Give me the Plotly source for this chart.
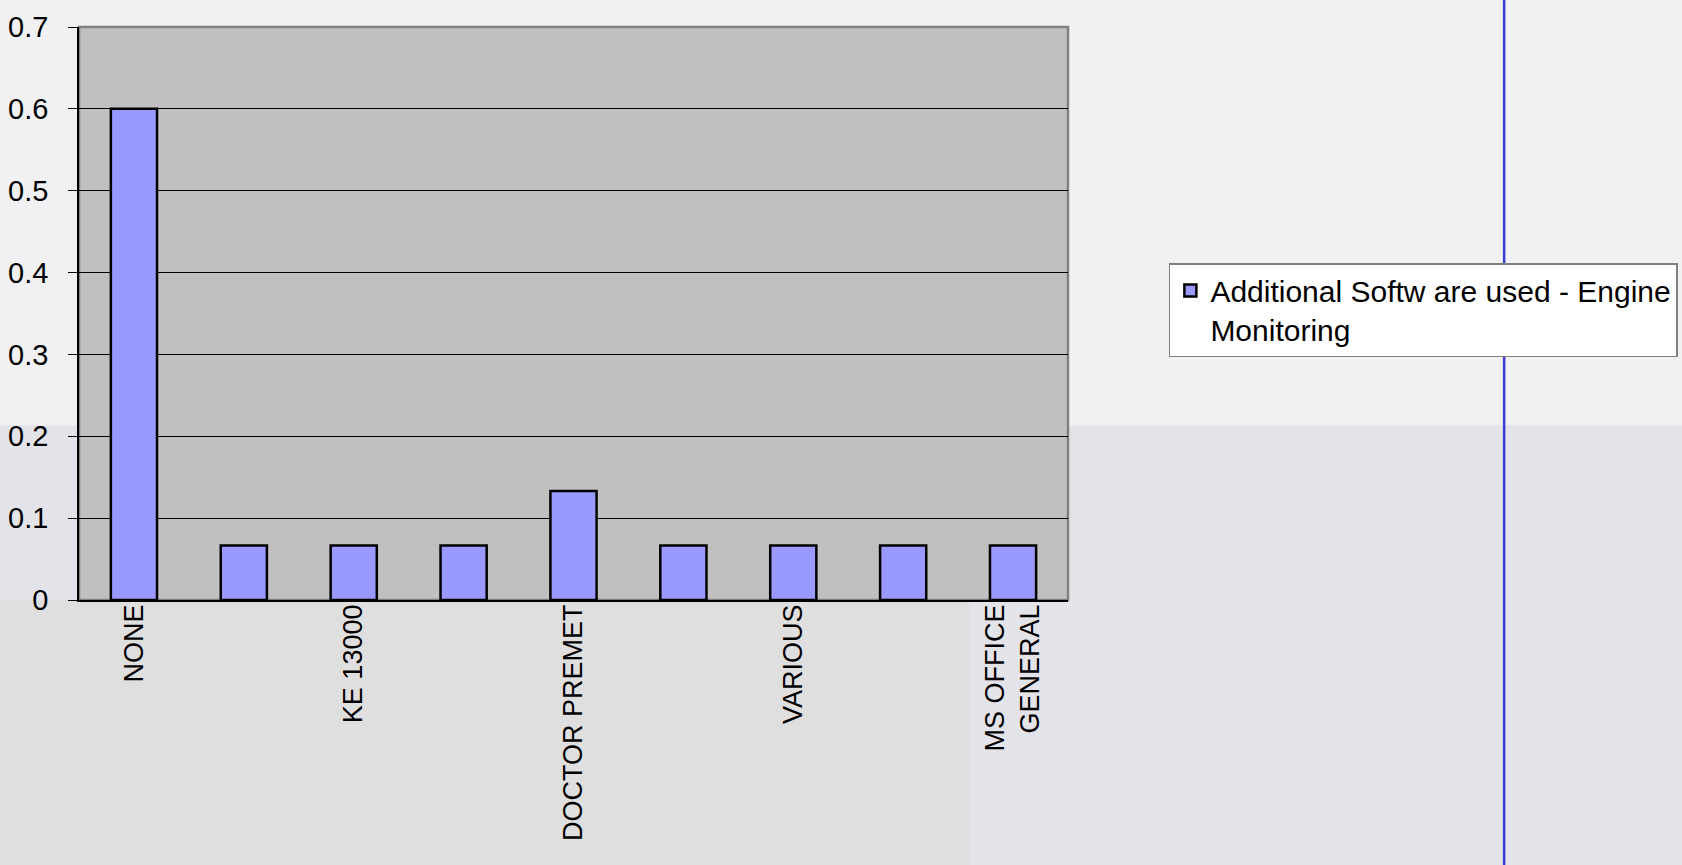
import plotly.graph_objs as go

# share of respondents per software (15 answers)
tick_labels = ["NONE", "", "KE 13000", "", "DOCTOR PREMET", "", "VARIOUS", "", "MS OFFICE<br>GENERAL"]
values = [0.6, 0.0667, 0.0667, 0.0667, 0.1333, 0.0667, 0.0667, 0.0667, 0.0667]
y_ticks = [0, 0.1, 0.2, 0.3, 0.4, 0.5, 0.6, 0.7]
series_name = "Additional Softw are used - Engine<br>Monitoring"

positions = list(range(len(values)))
shown = [i for i, t in enumerate(tick_labels) if t]
boundaries = [p - 0.5 for p in positions] + [positions[-1] + 0.5]

FONT = "Arial, Liberation Sans, sans-serif"

fig = go.Figure()

fig.add_trace(
    go.Bar(
        x=positions,
        y=values,
        name=series_name,
        marker=dict(color="#9999ff", line=dict(color="black", width=2.5)),
        showlegend=True,
    )
)

# slide background (rough imitation of the photo behind the chart)
bg_shapes = [
    dict(type="rect", xref="paper", yref="paper", x0=-0.1, x1=1.7, y0=0.305, y1=1.1,
         fillcolor="#f1f0f3", line_width=0, layer="below"),
    dict(type="rect", xref="paper", yref="paper", x0=-0.1, x1=1.7, y0=-0.5, y1=0.305,
         fillcolor="#e3e4ea", line_width=0, layer="below"),
    dict(type="rect", xref="paper", yref="paper", x0=-0.1, x1=0.9, y0=-0.5, y1=0.0,
         fillcolor="#dedcd8", opacity=0.6, line_width=0, layer="below"),
    # plot area
    dict(type="rect", xref="paper", yref="paper", x0=0, x1=1, y0=0, y1=1,
         fillcolor="#c0c0c0", line=dict(color="#808080", width=2.5), layer="below"),
    # blue rule of the slide template
    dict(type="line", xref="paper", yref="paper", x0=1.441, x1=1.441, y0=-0.5, y1=1.1,
         line=dict(color="#3b3bd4", width=2.5), layer="below"),
]

fig.update_layout(
    width=1682,
    height=865,
    margin=dict(l=79, r=614, t=27, b=265, autoexpand=False),
    paper_bgcolor="#f1f0f3",
    plot_bgcolor="#c0c0c0",
    shapes=bg_shapes,
    bargap=0.58,
    font=dict(family=FONT, color="black"),
    xaxis=dict(
        range=[-0.5, len(values) - 0.5],
        tickvals=shown,
        ticktext=[tick_labels[i] for i in shown],
        tickangle=-90,
        tickfont_size=27,
        ticks="",
        showgrid=False,
        zeroline=False,
        showline=True,
        linecolor="black",
        linewidth=1.5,
        ticklabelstandoff=-8,
        automargin=False,
    ),
    xaxis2=dict(
        overlaying="x",
        anchor="y",
        side="bottom",
        range=[-0.5, len(values) - 0.5],
        tickvals=boundaries,
        ticks="outside",
        ticklen=8,
        tickcolor="black",
        showticklabels=False,
        showgrid=False,
        zeroline=False,
        automargin=False,
    ),
    yaxis=dict(
        range=[0, 0.7],
        tickvals=y_ticks,
        tickfont_size=29,
        ticks="outside",
        ticklen=9,
        tickcolor="black",
        showgrid=True,
        gridcolor="black",
        gridwidth=1,
        zeroline=False,
        showline=True,
        linecolor="black",
        linewidth=1.5,
        ticklabelstandoff=14,
        automargin=False,
    ),
    legend=dict(
        x=1.102,
        xanchor="left",
        y=0.588,
        yanchor="top",
        bgcolor="white",
        bordercolor="#808080",
        borderwidth=1.5,
        font=dict(size=30, family=FONT),
        valign="top",
    ),
)

fig.write_html(
    "out.html",
    config={"displayModeBar": False},
    post_script="document.body.style.margin='0';",
)
